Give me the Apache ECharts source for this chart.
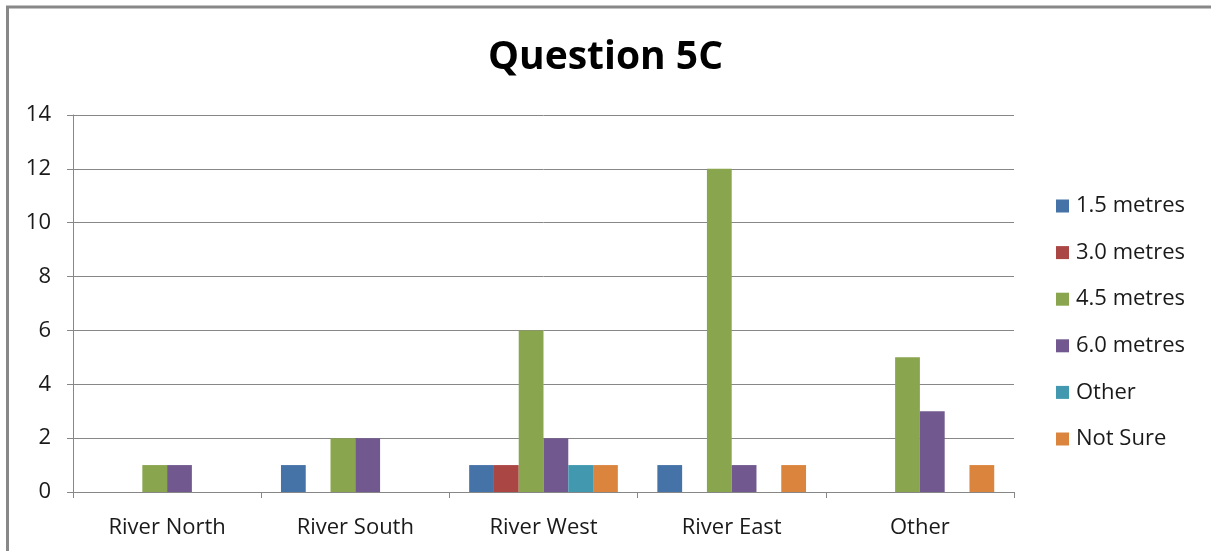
<!DOCTYPE html>
<html>
<head>
<meta charset="utf-8">
<script src="https://cdn.jsdelivr.net/npm/echarts@6/dist/echarts.min.js"></script>
<style>
  html, body { margin: 0; padding: 0; background: #fff; }
  #chart { width: 1211px; height: 551px; }
</style>
</head>
<body>
<div id="chart"></div>
<script>
// Survey responses per river area
const categories = ['River North', 'River South', 'River West', 'River East', 'Other'];
const seriesNames = ['1.5 metres', '3.0 metres', '4.5 metres', '6.0 metres', 'Other', 'Not Sure'];
const metres15 = [0, 1, 1, 1, 0];
const metres30 = [0, 0, 1, 0, 0];
const metres45 = [1, 2, 6, 12, 5];
const metres60 = [1, 2, 2, 1, 3];
const otherAnswer = [0, 0, 1, 0, 0];
const notSure = [0, 0, 1, 1, 1];
const yTicks = [0, 2, 4, 6, 8, 10, 12, 14];

const colors = ['#4572A7', '#AA4643', '#89A54E', '#71588F', '#4198AF', '#DB843D'];
const values = [metres15, metres30, metres45, metres60, otherAnswer, notSure];
const FONT = '"Open Sans", Lato, sans-serif';
const axisGray = '#878787';
const textColor = '#1a1a1a';

const chart = echarts.init(document.getElementById('chart'), null, { renderer: 'canvas' });

chart.setOption({
  animation: false,
  color: colors,
  textStyle: { fontFamily: FONT },
  title: {
    text: 'Question 5C',
    left: 'center',
    top: 38,
    padding: 0,
    textStyle: { fontFamily: FONT, fontSize: 39, fontWeight: 'bold', color: '#000' }
  },
  legend: {
    orient: 'vertical',
    left: 1056,
    top: 195,
    padding: 0,
    itemWidth: 13,
    itemHeight: 13,
    itemGap: 24.6,
    icon: 'rect',
    data: seriesNames,
    textStyle: { fontFamily: FONT, fontSize: 22, color: textColor, lineHeight: 20, padding: [0, 0, 0, 2] }
  },
  grid: { left: 73, right: 197, top: 115, bottom: 59, containLabel: false },
  xAxis: {
    type: 'category',
    data: categories,
    axisLine: { lineStyle: { color: axisGray, width: 1 } },
    axisTick: { show: true, length: 6, lineStyle: { color: axisGray } },
    axisLabel: { fontFamily: FONT, fontSize: 22, color: textColor, margin: 25 }
  },
  yAxis: {
    type: 'value',
    min: yTicks[0],
    max: yTicks[yTicks.length - 1],
    interval: 2,
    axisLine: { show: true, lineStyle: { color: axisGray, width: 1 } },
    axisTick: { show: true, length: 6, lineStyle: { color: axisGray } },
    axisLabel: { fontFamily: FONT, fontSize: 22, color: textColor, margin: 22 },
    splitLine: { lineStyle: { color: axisGray, width: 1 } }
  },
  graphic: [
    {
      type: 'polyline',
      shape: { points: [[7.5, 551], [7.5, 7], [1211, 7]] },
      style: { stroke: '#888888', lineWidth: 3, fill: null },
      silent: true
    }
  ],
  series: values.map((data, i) => ({
    name: seriesNames[i],
    type: 'bar',
    data: data,
    barGap: '0%',
    barCategoryGap: '21%',
    itemStyle: { color: colors[i] }
  }))
});
</script>
</body>
</html>
